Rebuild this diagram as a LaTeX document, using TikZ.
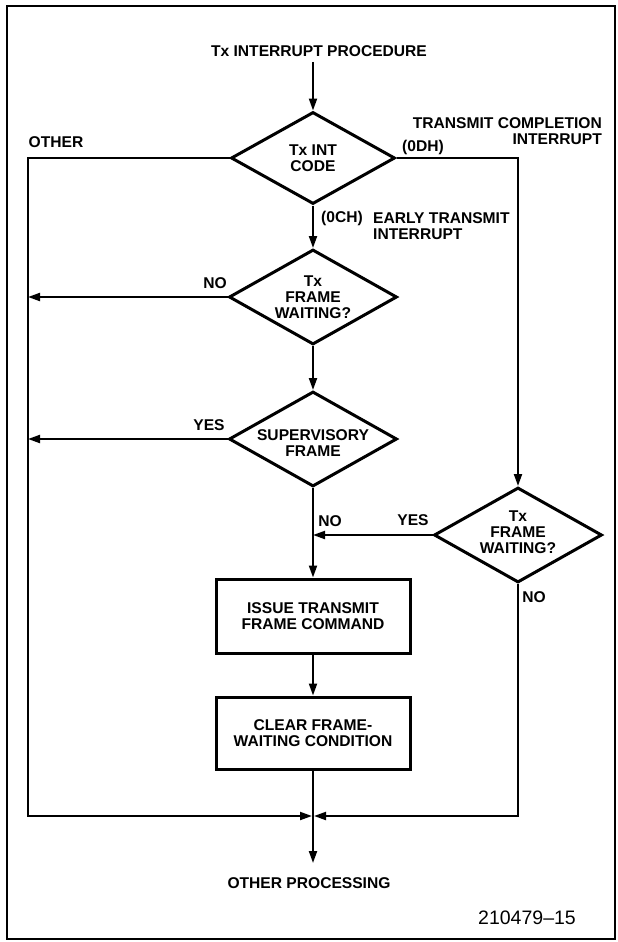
\documentclass[tikz,border=0pt]{standalone}
\usepackage{fontspec}
\setmainfont{Liberation Sans}
\usetikzlibrary{shapes.geometric,arrows.meta}
\begin{document}
\begin{tikzpicture}[x=1pt,y=-1pt,
  lbl/.style={font=\fontsize{15.6}{16}\selectfont\bfseries, inner sep=0pt, align=center},
  dia/.style={draw, line width=3pt, diamond, inner sep=0pt, minimum width=168pt, minimum height=95pt},
  boxn/.style={draw, line width=3pt, rectangle, inner sep=0pt, minimum width=194pt, minimum height=74pt, align=center, font=\fontsize{15.6}{16}\selectfont\bfseries},
  conn/.style={line width=2pt},
  arr/.style={conn, -{Triangle[length=12pt,width=8pt]}}
]
\useasboundingbox (0,0) rectangle (618,942);
\draw[line width=2.2pt] (7,6) rectangle (615,939);

% nodes
\node[lbl] (title) at (319,51) {Tx INTERRUPT PROCEDURE};
\node[dia, minimum width=164pt, minimum height=92pt, label={[lbl]center:{Tx INT\\CODE}}] (d1) at (313,158) {};
\node[dia, label={[lbl]center:{Tx\\FRAME\\WAITING?}}] (d2) at (313,297) {};
\node[dia, label={[lbl,yshift=-4pt]center:{SUPERVISORY\\FRAME}}] (d3) at (313,439) {};
\node[dia, label={[lbl,yshift=3pt]center:{Tx\\FRAME\\WAITING?}}] (d4) at (518,535) {};
\node[boxn] (b1) at (313,616) {ISSUE TRANSMIT\\FRAME COMMAND};
\node[boxn, minimum height=72pt] (b2) at (313,733) {CLEAR FRAME-\\WAITING CONDITION};
\node[lbl] (op) at (309,883) {OTHER PROCESSING};
\node[inner sep=0pt, font=\fontsize{19.5}{20}\selectfont] (fig) at (527,918) {210479--15};

% labels
\node[lbl] (lother) at (56,142) {OTHER};
\node[lbl, align=right, anchor=east] (ltc) at (602,131) {TRANSMIT COMPLETION\\INTERRUPT};
\node[lbl] (l0dh) at (423,147) {(0DH)};
\node[lbl] (l0ch) at (342,218) {(0CH)};
\node[lbl, align=left, anchor=west] (let) at (373,226) {EARLY TRANSMIT\\INTERRUPT};
\node[lbl] (lno1) at (215,283) {NO};
\node[lbl] (lyes1) at (209,425) {YES};
\node[lbl] (lno2) at (330,521) {NO};
\node[lbl] (lyes2) at (413,520) {YES};
\node[lbl] (lno3) at (534,597) {NO};

% coordinates
\coordinate (jn) at (313,816);
\coordinate (lc) at (28,816);
\coordinate (tstart) at (313,62);
\coordinate (endp) at (313,863);

% connectors
\draw[arr] (tstart) -- (d1.north);
\draw[arr] (d1.south) -- (d2.north);
\draw[arr] (d2.south) -- (d3.north);
\draw[arr] (d3.south) -- (b1.north);
\draw[arr] (b1.south) -- (b2.north);
\draw[arr] (b2.south) -- (endp);
\draw[arr] (d1.east) -| (d4.north);
\draw[arr] (d2.west) -- (d2.west -| lc);
\draw[arr] (d3.west) -- (d3.west -| lc);
\draw[arr] (d4.west) -- (d4.west -| d3.south);
\draw[arr, shorten >=1pt] (d1.west) -| (lc) -- (jn);
\draw[arr, shorten >=1pt] (d4.south) |- (jn);
\end{tikzpicture}
\end{document}
